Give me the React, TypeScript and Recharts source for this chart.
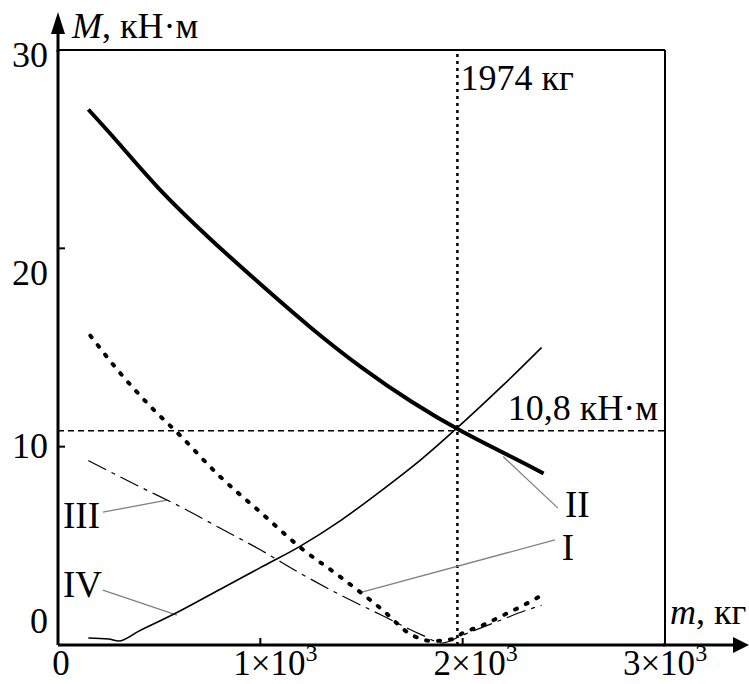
import { LineChart, Line, XAxis, YAxis, ReferenceLine, ReferenceDot } from "recharts";

const FONT = "'Liberation Serif', 'Times New Roman', serif";

// m, kg  /  M, kN·m
const massI = [160, 300, 450, 600, 800, 1000, 1200, 1400, 1600, 1750, 1850, 1950, 2000, 2100, 2200, 2300, 2390];
const momentI = [15.6, 13.8, 12.1, 10.6, 8.5, 6.7, 4.9, 3.4, 1.8, 0.5, 0.2, 0.3, 0.6, 1.0, 1.5, 2.0, 2.5];

const massII = [150, 300, 500, 750, 1000, 1250, 1500, 1750, 2000, 2250, 2400];
const momentII = [27.0, 25.3, 23.0, 20.5, 18.2, 16.0, 14.0, 12.25, 10.75, 9.44, 8.65];

const massIII = [150, 400, 600, 800, 1000, 1200, 1400, 1600, 1800, 1900, 2000, 2100, 2200, 2300, 2390];
const momentIII = [9.3, 8.0, 7.0, 5.9, 4.8, 3.6, 2.5, 1.5, 0.5, 0.1, 0.5, 0.9, 1.3, 1.7, 2.0];

const massIV = [150, 250, 300, 400, 600, 800, 1000, 1200, 1400, 1600, 1800, 2000, 2200, 2390];
const momentIV = [0.35, 0.3, 0.2, 0.7, 1.7, 2.8, 3.9, 5.0, 6.3, 7.8, 9.4, 11.2, 13.1, 15.0];

const xTicks = [0, 1000, 2000, 3000];
const xTickMantissa = ["0", "1×10", "2×10", "3×10"];
const xTickPower = ["", "3", "3", "3"];
const yTicks = [0, 10, 20, 30];

const crossMass = 1974;
const crossMoment = 10.8;

// leader lines: curve point -> label side
const leaders = [
  { name: "I", from: [1502, 2.67], to: [2456, 5.3], text: [2490, 4.3] },
  { name: "II", from: [2200, 9.5], to: [2471, 6.9], text: [2506, 6.45] },
  { name: "III", from: [222, 6.7], to: [539, 7.3], text: [25, 5.9] },
  { name: "IV", from: [222, 2.77], to: [588, 1.51], text: [25, 2.42] },
];

const toPoints = (ms: number[], vs: number[]) => ms.map((m, i) => ({ m, M: vs[i] }));

const yLabelShift: Record<number, number> = { 0: -12, 10: 11, 20: 37, 30: 17 };
const xLabelShift: Record<number, number> = { 0: 3, 1000: 15, 2000: 13, 3000: 0 };

function LeftTick({ x, y, payload }: any) {
  const v = payload.value;
  return (
    <g>
      {v > 0 && v < 30 && <line x1={x} x2={x + 7} y1={y} y2={y} stroke="#000" strokeWidth={2} />}
      <text x={x - 10} y={y + yLabelShift[v]} textAnchor="end" fontSize={36} fontFamily={FONT} fill="#000">
        {v}
      </text>
    </g>
  );
}

function BottomTick({ x, y, payload, index }: any) {
  const v = payload.value;
  return (
    <g>
      {v > 0 && v < 3000 && <line x1={x} x2={x} y1={y} y2={y - 7} stroke="#000" strokeWidth={2} />}
      <text x={x + xLabelShift[v]} y={y + 30} textAnchor="middle" fontSize={35} fontFamily={FONT} fill="#000">
        {xTickMantissa[index]}
        {xTickPower[index] && (
          <tspan fontSize={24} dy={-14}>
            {xTickPower[index]}
          </tspan>
        )}
      </text>
    </g>
  );
}

function RightTick({ x, y, payload }: any) {
  const v = payload.value;
  if (v <= 0 || v >= 30) return <g />;
  return <line x1={x - 7} x2={x} y1={y} y2={y} stroke="#000" strokeWidth={2} />;
}

function TopTick({ x, y, payload }: any) {
  const v = payload.value;
  if (v <= 0 || v >= 3000) return <g />;
  return <line x1={x} x2={x} y1={y} y2={y + 7} stroke="#000" strokeWidth={2} />;
}

export default function App() {
  return (
    <div style={{ position: "absolute", left: 0, top: 0, width: 749, height: 684, fontFamily: FONT }}>
      <LineChart width={749} height={684} margin={{ top: 49, right: 83, bottom: 38, left: 57 }}>
        <XAxis
          dataKey="m"
          type="number"
          domain={[0, 3000]}
          ticks={xTicks}
          height={1}
          tickSize={0}
          tickMargin={0}
          tickLine={false}
          tick={<BottomTick />}
          axisLine={{ stroke: "#000", strokeWidth: 3 }}
          allowDataOverflow
        />
        <XAxis
          xAxisId="top"
          orientation="top"
          type="number"
          domain={[0, 3000]}
          ticks={xTicks}
          height={1}
          tickSize={0}
          tickMargin={0}
          tickLine={false}
          tick={<TopTick />}
          axisLine={{ stroke: "#000", strokeWidth: 2 }}
        />
        <YAxis
          type="number"
          domain={[0, 30]}
          ticks={yTicks}
          width={1}
          tickSize={0}
          tickMargin={0}
          tickLine={false}
          tick={<LeftTick />}
          axisLine={{ stroke: "#000", strokeWidth: 3 }}
          allowDataOverflow
        />
        <YAxis
          yAxisId="right"
          orientation="right"
          type="number"
          domain={[0, 30]}
          ticks={yTicks}
          width={1}
          tickSize={0}
          tickMargin={0}
          tickLine={false}
          tick={<RightTick />}
          axisLine={{ stroke: "#000", strokeWidth: 2 }}
        />

        <ReferenceLine
          x={crossMass}
          stroke="#000"
          strokeWidth={2.5}
          strokeDasharray="3 4"
          label={({ viewBox }: any) => (
            <text x={viewBox.x + 3} y={viewBox.y + 40} fontSize={36} fontFamily={FONT} fill="#000">
              {`${crossMass} кг`}
            </text>
          )}
        />
        <ReferenceLine
          y={crossMoment}
          stroke="#000"
          strokeWidth={1.5}
          strokeDasharray="6 4"
          label={({ viewBox }: any) => (
            <text
              x={viewBox.x + viewBox.width - 7}
              y={viewBox.y - 11}
              textAnchor="end"
              fontSize={36}
              fontFamily={FONT}
              fill="#000"
            >
              10,8 кН·м
            </text>
          )}
        />

        {leaders.map((l) => (
          <ReferenceLine
            key={`lead-${l.name}`}
            segment={[
              { x: l.from[0], y: l.from[1] },
              { x: l.to[0], y: l.to[1] },
            ]}
            stroke="#808080"
            strokeWidth={1.3}
            ifOverflow="visible"
          />
        ))}
        {leaders.map((l) => (
          <ReferenceDot
            key={`txt-${l.name}`}
            x={l.text[0]}
            y={l.text[1]}
            r={0}
            fill="none"
            stroke="none"
            ifOverflow="visible"
            label={({ viewBox }: any) => (
              <text x={viewBox.x} y={viewBox.y} fontSize={37} fontFamily={FONT} fill="#000">
                {l.name}
              </text>
            )}
          />
        ))}

        <Line
          data={toPoints(massIII, momentIII)}
          dataKey="M"
          type="monotone"
          stroke="#000"
          strokeWidth={1.2}
          strokeDasharray="20 6 4 6"
          dot={false}
          activeDot={false}
          isAnimationActive={false}
        />
        <Line
          data={toPoints(massIV, momentIV)}
          dataKey="M"
          type="monotone"
          stroke="#000"
          strokeWidth={1.6}
          dot={false}
          activeDot={false}
          isAnimationActive={false}
        />
        <Line
          data={toPoints(massI, momentI)}
          dataKey="M"
          type="monotone"
          stroke="#000"
          strokeWidth={4}
          strokeDasharray="2 10"
          strokeLinecap="round"
          dot={false}
          activeDot={false}
          isAnimationActive={false}
        />
        <Line
          data={toPoints(massII, momentII)}
          dataKey="M"
          type="natural"
          stroke="#000"
          strokeWidth={4}
          dot={false}
          activeDot={false}
          isAnimationActive={false}
        />
      </LineChart>

      <svg
        width={749}
        height={684}
        style={{ position: "absolute", left: 0, top: 0, pointerEvents: "none" }}
      >
        <line x1={58} x2={58} y1={52} y2={30} stroke="#000" strokeWidth={3} />
        <polygon points="58,12 51,34 65,34" fill="#000" />
        <line x1={663} x2={735} y1={645} y2={645} stroke="#000" strokeWidth={3} />
        <polygon points="749,645 733,637 733,653" fill="#000" />
        <text x={72} y={38} fontSize={36} fontFamily={FONT} fill="#000">
          <tspan fontStyle="italic">M</tspan>, кН·м
        </text>
        <text x={670} y={624} fontSize={36} fontFamily={FONT} fill="#000">
          <tspan fontStyle="italic">m</tspan>, кг
        </text>
      </svg>
    </div>
  );
}
